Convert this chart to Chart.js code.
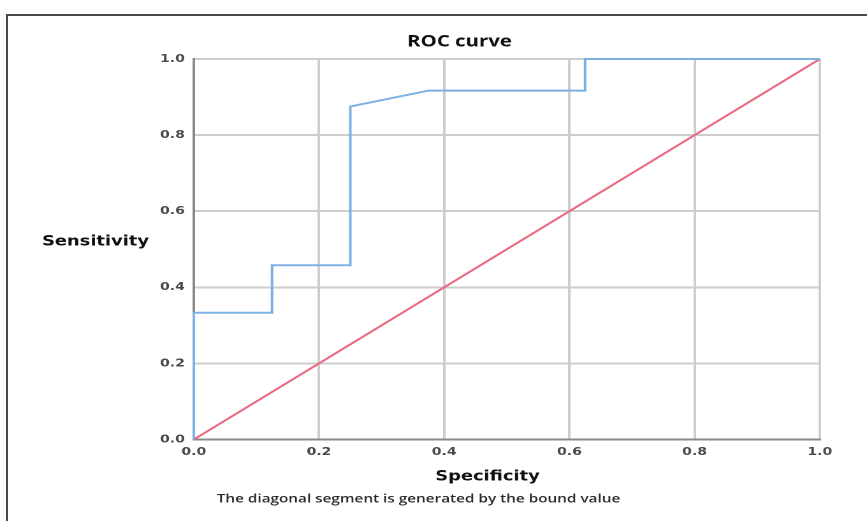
<!DOCTYPE html>
<html>
<head>
<meta charset="utf-8">
<script src="https://cdn.jsdelivr.net/npm/chart.js@4.4.1/dist/chart.umd.min.js"></script>
<style>
  html, body { margin: 0; padding: 0; background: #fff; overflow: hidden; }
  #wrap { position: relative; width: 867px; height: 521px; }
  #frame { position: absolute; left: 6px; top: 14px; right: -10px; bottom: -10px;
           border-left: 2px solid #4a4a4a; border-top: 2px solid #4a4a4a; pointer-events: none; }
  canvas { position: absolute; left: 0; top: 0; }
</style>
</head>
<body>
<div id="wrap">
  <canvas id="c" width="680" height="521" style="width:867px;height:521px;"></canvas>
  <div id="frame"></div>
</div>
<script>
// ---- data ----
const rocSpecificity = [0, 0, 0.125, 0.125, 0.25, 0.25, 0.375, 0.625, 0.625, 1];
const rocSensitivity = [0, 0.333, 0.333, 0.458, 0.458, 0.875, 0.917, 0.917, 1, 1];
const diagX = [0, 1];
const diagY = [0, 1];
const tickValues = [0, 0.2, 0.4, 0.6, 0.8, 1.0];
const tickLabels = ['0.0', '0.2', '0.4', '0.6', '0.8', '1.0'];
const titleText = 'ROC curve';
const xTitleText = 'Specificity';
const yTitleText = 'Sensitivity';
const footnoteText = 'The diagonal segment is generated by the bound value';

// horizontal stretch of the reference picture
const SX = 867 / 680;

const toPoints = (xs, ys) => xs.map((x, i) => ({ x: x, y: ys[i] }));

const textPlugin = {
  id: 'texts',
  afterDraw(chart) {
    const ctx = chart.ctx;
    ctx.save();
    ctx.fillStyle = '#111';
    ctx.textBaseline = 'middle';
    // title
    ctx.font = 'bold 16px "Open Sans"';
    ctx.textAlign = 'center';
    ctx.fillText(titleText, 459.5 / SX, 42);
    // y title (horizontal)
    ctx.font = 'bold 14px "DejaVu Sans"';
    ctx.textAlign = 'left';
    ctx.fillText(yTitleText, 42 / SX, 242);
    // x title
    ctx.textAlign = 'center';
    ctx.fillText(xTitleText, 487.5 / SX, 477);
    // footnote
    ctx.font = '600 12px "Open Sans"';
    ctx.fillStyle = '#2a2a2a';
    ctx.fillText(footnoteText, 418.5 / SX, 499);
    ctx.restore();
  }
};

const tickCb = function (value) {
  const i = tickValues.findIndex(v => Math.abs(v - value) < 1e-9);
  return i >= 0 ? tickLabels[i] : '';
};

new Chart(document.getElementById('c'), {
  type: 'scatter',
  data: {
    datasets: [
      {
        label: 'ROC',
        data: toPoints(rocSpecificity, rocSensitivity),
        showLine: true,
        borderColor: '#7eb1e3',
        borderWidth: 2,
        pointRadius: 0,
        tension: 0,
        fill: false,
        clip: false
      },
      {
        label: 'Reference',
        data: toPoints(diagX, diagY),
        showLine: true,
        borderColor: '#ea6a82',
        borderWidth: 2,
        pointRadius: 0,
        tension: 0,
        fill: false,
        clip: false
      }
    ]
  },
  options: {
    responsive: false,
    devicePixelRatio: 2,
    animation: false,
    events: [],
    layout: { padding: { left: 0, right: 37, top: 59, bottom: 0 } },
    plugins: {
      legend: { display: false },
      tooltip: { enabled: false },
      title: { display: false }
    },
    scales: {
      x: {
        type: 'linear',
        min: 0, max: 1,
        afterBuildTicks(scale) { scale.ticks = tickValues.map(v => ({ value: v })); },
        afterFit(scale) { scale.height = 81.5; },
        ticks: {
          callback: tickCb,
          padding: 6,
          color: '#4a4a4a',
          font: { family: 'DejaVu Sans', weight: 'bold', size: 11 },
          maxRotation: 0
        },
        grid: { color: '#cdcdcd', lineWidth: 2, drawTicks: false },
        border: { color: '#8a8a8a', width: 2 }
      },
      y: {
        type: 'linear',
        min: 0, max: 1,
        afterBuildTicks(scale) { scale.ticks = tickValues.map(v => ({ value: v })); },
        afterFit(scale) { scale.width = 152; },
        ticks: {
          callback: tickCb,
          padding: 7,
          color: '#4a4a4a',
          font: { family: 'DejaVu Sans', weight: 'bold', size: 11 }
        },
        grid: { color: '#cdcdcd', lineWidth: 2, drawTicks: false },
        border: { color: '#8a8a8a', width: 2 }
      }
    }
  },
  plugins: [textPlugin]
});
</script>
</body>
</html>
